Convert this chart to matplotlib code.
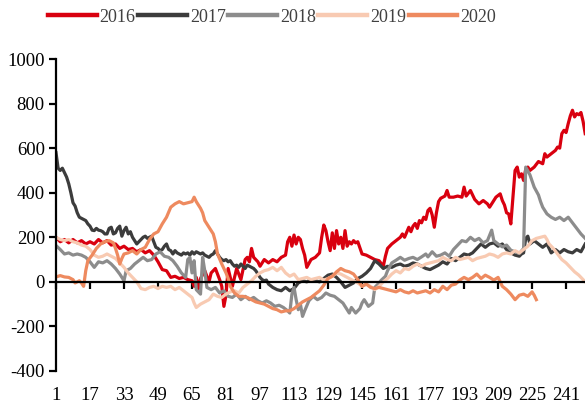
import matplotlib
matplotlib.use("Agg")
import matplotlib.pyplot as plt
import matplotlib.transforms as mtransforms

plt.rcParams['font.family'] = ['Liberation Serif', 'DejaVu Serif']
plt.rcParams['axes.unicode_minus'] = False

years = ['2016', '2017', '2018', '2019', '2020']
colors = ['#d9000f', '#3c3c3c', '#8c8c8c', '#f8cab2', '#ee8a5f']

x16 = [1, 3, 5, 7, 9, 11, 13, 15, 17, 19, 21, 23, 25, 27, 29, 31, 33, 35, 37, 39, 41, 43, 45, 47,
       49, 51, 53, 55, 57, 59, 61, 63, 65, 66, 67, 68, 69, 71, 73, 74, 76, 78, 79, 80, 81, 82, 84,
       86, 88, 90, 91, 92, 93, 94, 96, 97, 99, 101, 103, 105, 107, 109, 110, 111, 112, 113, 114,
       115, 116, 117, 118, 119, 121, 123, 125, 126, 127, 128, 129, 130, 131, 132, 133, 134, 135,
       136, 137, 138, 139, 140, 141, 142, 143, 145, 147, 149, 151, 153, 155, 156, 157, 159, 161,
       163, 164, 165, 167, 168, 169, 170, 171, 172, 173, 174, 175, 176, 177, 178, 179, 180, 181,
       182, 184, 185, 186, 188, 190, 192, 193, 194, 196, 198, 200, 202, 204, 205, 206, 208, 210,
       211, 212, 213, 214, 215, 216, 217, 218, 219, 220, 221, 222, 223, 224, 226, 228, 230, 231,
       232, 234, 236, 237, 238, 239, 240, 241, 242, 243, 244, 245, 246, 247, 248, 249, 250]
y16 = [200, 180, 190, 175, 190, 175, 185, 170, 180, 170, 190, 175, 185, 165, 170, 150, 160, 145,
       150, 135, 145, 130, 140, 120, 90, 55, 50, 20, 25, 15, 20, 10, 5, -20, 20, -30, 15, 50, 0,
       40, 60, 10, -20, -110, -60, 60, -20, 60, 10, 100, 110, 90, 150, 110, 90, 70, 100, 85, 100,
       90, 110, 120, 180, 200, 160, 210, 170, 200, 190, 150, 120, 65, 100, 110, 130, 200, 255,
       230, 180, 140, 220, 150, 230, 170, 200, 150, 230, 160, 180, 170, 185, 175, 180, 125, 120,
       110, 100, 95, 70, 115, 150, 170, 185, 200, 215, 200, 245, 225, 250, 262, 240, 275, 265,
       290, 280, 320, 330, 300, 245, 310, 360, 375, 385, 410, 380, 380, 385, 380, 425, 385, 410,
       370, 350, 365, 350, 335, 350, 380, 395, 365, 345, 310, 305, 260, 380, 500, 515, 470, 485,
       455, 505, 515, 500, 515, 540, 530, 575, 560, 575, 590, 605, 600, 665, 680, 670, 710, 745,
       770, 740, 755, 750, 760, 720, 665]

x17 = [1, 2, 3, 4, 5, 6, 7, 8, 9, 10, 11, 12, 13, 14, 15, 16, 17, 18, 19, 20, 21, 22, 23, 24, 25,
       26, 27, 28, 29, 30, 31, 32, 33, 34, 35, 36, 37, 38, 39, 40, 41, 42, 43, 44, 45, 46, 47, 48,
       49, 50, 51, 52, 53, 54, 55, 56, 57, 58, 59, 60, 61, 62, 63, 64, 65, 66, 67, 68, 69, 70, 71,
       72, 73, 74, 75, 76, 77, 78, 79, 80, 81, 82, 83, 84, 85, 86, 87, 88, 89, 90, 91, 92, 93, 94,
       95, 96, 97, 98, 99, 100, 101, 103, 105, 107, 109, 111, 113, 115, 117, 119, 121, 123, 125,
       127, 129, 131, 133, 135, 137, 139, 141, 143, 145, 147, 149, 151, 153, 155, 157, 159, 161,
       163, 165, 167, 169, 171, 173, 175, 177, 179, 181, 183, 185, 187, 189, 191, 193, 195, 197,
       199, 201, 203, 205, 207, 209, 211, 213, 215, 217, 219, 220, 221, 222, 223, 224, 226, 228,
       230, 232, 234, 236, 238, 240, 242, 244, 246, 248, 250]
y17 = [580, 510, 500, 510, 490, 470, 440, 400, 355, 340, 310, 290, 285, 280, 275, 260, 250, 232,
       230, 240, 232, 230, 225, 215, 215, 240, 245, 215, 220, 240, 250, 205, 230, 245, 215, 225,
       200, 185, 170, 180, 190, 200, 205, 195, 200, 205, 180, 155, 150, 140, 145, 160, 170, 145,
       140, 125, 140, 130, 125, 120, 130, 125, 130, 120, 135, 125, 135, 130, 125, 130, 120, 115,
       110, 120, 125, 140, 125, 110, 100, 95, 100, 90, 95, 80, 70, 75, 65, 80, 70, 60, 75, 70, 65,
       60, 50, 35, 20, 10, 5, 8, -10, -25, -35, -40, -25, -40, -30, -5, 5, 0, 10, 5, 0, 15, 30,
       35, 20, 0, -25, -15, -5, 15, 25, 40, 60, 95, 80, 60, 70, 65, 75, 80, 70, 75, 85, 80, 70,
       60, 55, 65, 75, 90, 80, 105, 95, 110, 125, 120, 130, 150, 170, 155, 170, 175, 160, 170,
       145, 130, 120, 115, 125, 130, 195, 205, 170, 185, 170, 155, 170, 130, 145, 130, 145, 135,
       130, 145, 135, 170]

x18 = [1, 3, 5, 7, 9, 11, 13, 15, 17, 19, 21, 23, 25, 27, 29, 31, 32, 33, 34, 36, 38, 40, 42, 44,
       46, 48, 50, 52, 54, 56, 58, 60, 62, 63, 64, 65, 66, 67, 69, 70, 71, 72, 74, 76, 78, 80, 82,
       84, 86, 88, 90, 92, 94, 96, 98, 100, 102, 104, 106, 108, 110, 111, 112, 113, 114, 115, 116,
       117, 118, 120, 122, 124, 126, 128, 130, 132, 134, 136, 138, 139, 140, 142, 144, 145, 146,
       148, 150, 151, 153, 154, 156, 157, 159, 161, 163, 165, 167, 169, 171, 173, 175, 176, 178,
       180, 182, 184, 186, 188, 190, 192, 194, 196, 198, 200, 202, 204, 206, 207, 209, 211, 213,
       215, 217, 219, 221, 222, 224, 226, 228, 229, 230, 232, 234, 236, 238, 240, 242, 244, 246,
       248, 250]
y18 = [163, 145, 125, 130, 120, 125, 120, 110, 90, 65, 90, 85, 95, 80, 60, 35, 20, 5, 50, 60, 80,
       95, 110, 95, 100, 125, 135, 115, 110, 95, 70, 40, 20, 100, 110, 40, 95, -35, -55, 110, 50,
       -25, -35, -25, -50, -40, -65, -70, -55, -80, -65, -80, -70, -85, -95, -85, -95, -110, -105,
       -115, -130, -140, -55, -25, -80, -125, -100, -155, -130, -85, -65, -80, -70, -50, -60, -65,
       -80, -95, -125, -140, -115, -140, -120, -95, -80, -110, -95, -25, -5, 7, 25, 50, 85, 97,
       110, 97, 105, 110, 100, 112, 125, 112, 135, 115, 120, 130, 115, 145, 165, 185, 180, 200,
       185, 195, 175, 185, 232, 185, 170, 157, 165, 142, 135, 127, 150, 515, 480, 425, 390, 360,
       335, 305, 290, 280, 290, 275, 290, 265, 240, 215, 195]

x19 = [1, 3, 5, 7, 9, 11, 13, 15, 17, 19, 21, 23, 25, 27, 29, 31, 33, 35, 37, 39, 41, 43, 45, 47,
       49, 51, 53, 55, 57, 59, 61, 63, 65, 66, 67, 69, 71, 73, 75, 77, 79, 81, 83, 85, 87, 89, 91,
       93, 95, 97, 99, 101, 103, 105, 107, 109, 111, 113, 115, 117, 119, 121, 123, 125, 127, 129,
       131, 133, 135, 137, 139, 141, 143, 145, 147, 149, 151, 153, 155, 157, 159, 161, 163, 165,
       167, 169, 171, 173, 175, 177, 179, 181, 183, 185, 187, 189, 191, 193, 195, 197, 199, 201,
       203, 205, 207, 209, 211, 213, 215, 217, 219, 221, 223, 225, 227, 229, 231, 232, 233, 235,
       237, 239, 241, 243, 245, 247, 249, 250]
y19 = [200, 190, 185, 190, 180, 175, 165, 160, 145, 120, 110, 115, 125, 115, 105, 85, 65, 40, 20,
       0, -30, -35, -25, -20, -30, -20, -25, -20, -35, -25, -40, -55, -70, -95, -115, -100, -90,
       -80, -55, -65, -70, -55, -45, -40, -50, -25, -10, 5, 25, 40, 50, 55, 65, 50, 65, 40, 25,
       35, 10, 15, 20, 10, 15, 20, 8, 15, 25, 40, 35, 25, 15, 5, -5, -20, -10, -20, -35, -20, 0,
       15, 35, 50, 40, 60, 55, 70, 80, 70, 80, 85, 90, 95, 110, 100, 95, 110, 100, 105, 110, 95,
       105, 110, 115, 125, 120, 110, 125, 130, 125, 140, 130, 145, 160, 185, 195, 200, 205, 190,
       170, 150, 125, 100, 85, 65, 45, 30, 10, 0]

x20 = [1, 3, 5, 7, 9, 10, 12, 13, 14, 15, 16, 18, 20, 22, 24, 26, 28, 29, 30, 31, 32, 33, 35, 37,
       39, 41, 43, 45, 47, 49, 51, 53, 55, 57, 59, 61, 63, 65, 66, 67, 69, 70, 71, 73, 75, 76, 77,
       79, 81, 82, 83, 85, 87, 89, 91, 93, 95, 97, 99, 101, 103, 105, 107, 109, 111, 113, 115,
       117, 119, 121, 123, 125, 127, 129, 131, 133, 135, 137, 139, 141, 143, 145, 147, 149, 151,
       153, 155, 157, 159, 161, 163, 165, 167, 169, 171, 173, 175, 177, 179, 181, 183, 185, 187,
       189, 191, 193, 195, 197, 199, 201, 203, 205, 207, 209, 211, 213, 215, 217, 219, 221, 223,
       225, 226, 227]
y20 = [22, 28, 22, 20, 10, -5, 5, -5, -20, 50, 95, 120, 150, 170, 180, 185, 175, 150, 120, 80,
       105, 125, 130, 140, 125, 145, 155, 190, 215, 225, 260, 290, 335, 350, 360, 350, 355, 360,
       380, 360, 330, 310, 275, 245, 215, 180, 125, 80, 40, 15, -20, -50, -65, -65, -70, -80, -90,
       -95, -100, -110, -120, -125, -135, -130, -130, -120, -105, -90, -80, -70, -55, -40, -15,
       15, 25, 45, 60, 50, 45, 35, 10, -20, -10, -25, -30, -25, -30, -35, -40, -45, -35, -45, -50,
       -40, -50, -45, -40, -50, -35, -45, -20, -35, -15, -10, 8, 20, 10, 20, 35, 15, 30, 20, 8,
       20, -20, -35, -55, -80, -60, -55, -65, -45, -60, -80]

xs = [x16, x17, x18, x19, x20]
ys = [y16, y17, y18, y19, y20]

xticks = list(range(1, 242, 16))
yticks = list(range(-400, 1001, 200))

fig = plt.figure(figsize=(5.85, 4.07), dpi=100)
ax = fig.add_axes([0.0957, 0.0885, 0.9043, 0.7665])

for x, y, c, lab in zip(xs, ys, colors, years):
    ax.plot(x, y, color=c, lw=2.3, label=lab, solid_joinstyle='round')

ax.set_xlim(1, 249.9)
ax.set_ylim(-400, 1000)
ax.spines['top'].set_visible(False)
ax.spines['right'].set_visible(False)
ax.spines['bottom'].set_position(('data', 0))
ax.spines['left'].set_linewidth(1.6)
ax.spines['bottom'].set_linewidth(1.6)

ax.set_yticks(yticks)
ax.set_yticklabels([str(v) for v in yticks], fontsize=13.5)
ax.tick_params(axis='y', length=5, width=1.6, pad=3)
ax.set_xticks(xticks)
ax.tick_params(axis='x', length=5, width=1.6, labelbottom=False)

trans = mtransforms.blended_transform_factory(ax.transData, ax.transAxes)
for t in xticks:
    ax.text(t, -0.052, str(t), transform=trans, ha='center', va='top', fontsize=13.5)

leg = fig.legend(loc='center', bbox_to_anchor=(0.465, 0.958), ncol=5, frameon=False,
                 fontsize=13, handlelength=2.7, handletextpad=0.15, columnspacing=0.15,
                 borderpad=0, borderaxespad=0)
for line in leg.get_lines():
    line.set_linewidth(3.2)
for txt in leg.get_texts():
    txt.set_color('#404040')

fig.savefig('out.png', dpi=100)
